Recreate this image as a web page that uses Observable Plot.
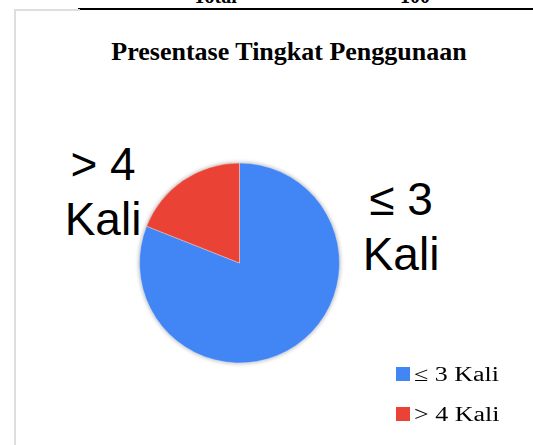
<!DOCTYPE html>
<html>
<head>
<meta charset="utf-8">
<script src="https://cdn.jsdelivr.net/npm/d3@7"></script>
<script src="https://cdn.jsdelivr.net/npm/@observablehq/plot@0.6"></script>
<style>
  html, body { margin: 0; padding: 0; background: #fff; }
  #wrap { position: relative; width: 533px; height: 445px; overflow: hidden; }
  .abs { position: absolute; white-space: nowrap; }
  .serif { font-family: "Liberation Serif", "Times New Roman", serif; }
  .sans { font-family: "Liberation Sans", Arial, sans-serif; }
  #chart { position: absolute; left: 0; top: 0; }
</style>
</head>
<body>
<div id="wrap">
  <div class="abs serif" style="left:193px; top:-14px; font-size:20px; font-weight:bold; line-height:20px;">Total</div>
  <div class="abs serif" style="left:400px; top:-14px; font-size:20px; font-weight:bold; line-height:20px;">100</div>
  <div class="abs" style="left:78px; top:8px; width:455px; height:2px; background:#000;"></div>
  <div class="abs" style="left:14px; top:9px; width:64px; height:440px; border-top:2px solid #dedede; border-left:2px solid #dedede;"></div>
  <div id="chart"></div>
  <div id="title" class="abs serif" style="left:0; width:578px; text-align:center; top:37px; font-size:26px; line-height:30px; font-weight:bold;"></div>
  <div id="labels"></div>
  <div id="legend"></div>
</div>
<script>
const title = "Presentase Tingkat Penggunaan";
const categories = ["≤ 3 Kali", "> 4 Kali"];
const values = [81, 19];
const colors = ["#4285F4", "#EA4335"];
const sliceLabels = [["≤ 3", "Kali"], ["> 4", "Kali"]];

const data = categories.map((c, i) => ({category: c, value: values[i]}));

document.getElementById("title").textContent = title;

const pieRender = (index, scales, vals, dimensions, context) => {
  const x = scales.x, y = scales.y, color = scales.color;
  const cx = x(0), cy = y(0), r = Math.abs(x(1) - x(0));
  const arcs = d3.pie().sort(null).value(d => d.value)(data);
  const arc = d3.arc().innerRadius(0).outerRadius(r);
  const g = d3.create("svg:g")
    .attr("transform", `translate(${cx},${cy})`)
    .style("filter", "drop-shadow(0px 0px 2px rgba(0,0,0,0.35))");
  g.selectAll("path").data(arcs).join("path")
    .attr("d", arc)
    .attr("fill", d => color(d.data.category))
    .attr("stroke", "#ffffff")
    .attr("stroke-opacity", 0.6)
    .attr("stroke-width", 0.6);
  return g.node();
};

const chart = Plot.plot({
  width: 533,
  height: 445,
  margin: 0,
  x: {domain: [-1, 1], range: [139.5, 339.5], axis: null},
  y: {domain: [-1, 1], range: [363, 163], axis: null},
  color: {domain: categories, range: colors},
  style: {background: "transparent", overflow: "visible"},
  marks: [pieRender]
});
document.getElementById("chart").appendChild(chart);

// slice labels
const labelPos = [{cx: 401, top: 172}, {cx: 103, top: 137}];
const labels = document.getElementById("labels");
sliceLabels.forEach((lines, i) => {
  const d = document.createElement("div");
  d.className = "abs sans";
  d.style.left = (labelPos[i].cx - 100) + "px";
  d.style.width = "200px";
  d.style.textAlign = "center";
  d.style.top = labelPos[i].top + "px";
  d.style.fontSize = "46px";
  d.style.lineHeight = "55px";
  d.style.color = "#000";
  d.innerHTML = lines.join("<br>");
  labels.appendChild(d);
});

// legend
const colorScale = Plot.scale({color: {domain: categories, range: colors}});
const legend = document.getElementById("legend");
categories.forEach((c, i) => {
  const row = document.createElement("div");
  row.className = "abs serif";
  row.style.left = "396px";
  row.style.top = (362 + i * 40) + "px";
  row.style.fontSize = "20px";
  row.style.lineHeight = "24px";
  row.style.display = "flex";
  row.style.alignItems = "center";
  const sw = document.createElement("span");
  sw.style.display = "inline-block";
  sw.style.width = "14px";
  sw.style.height = "14px";
  sw.style.background = colorScale.apply(c);
  sw.style.marginRight = "4px";
  const t = document.createElement("span");
  t.textContent = c;
  t.style.display = "inline-block";
  t.style.transform = "scaleX(1.3)";
  t.style.transformOrigin = "left center";
  row.appendChild(sw);
  row.appendChild(t);
  legend.appendChild(row);
});
</script>
</body>
</html>
